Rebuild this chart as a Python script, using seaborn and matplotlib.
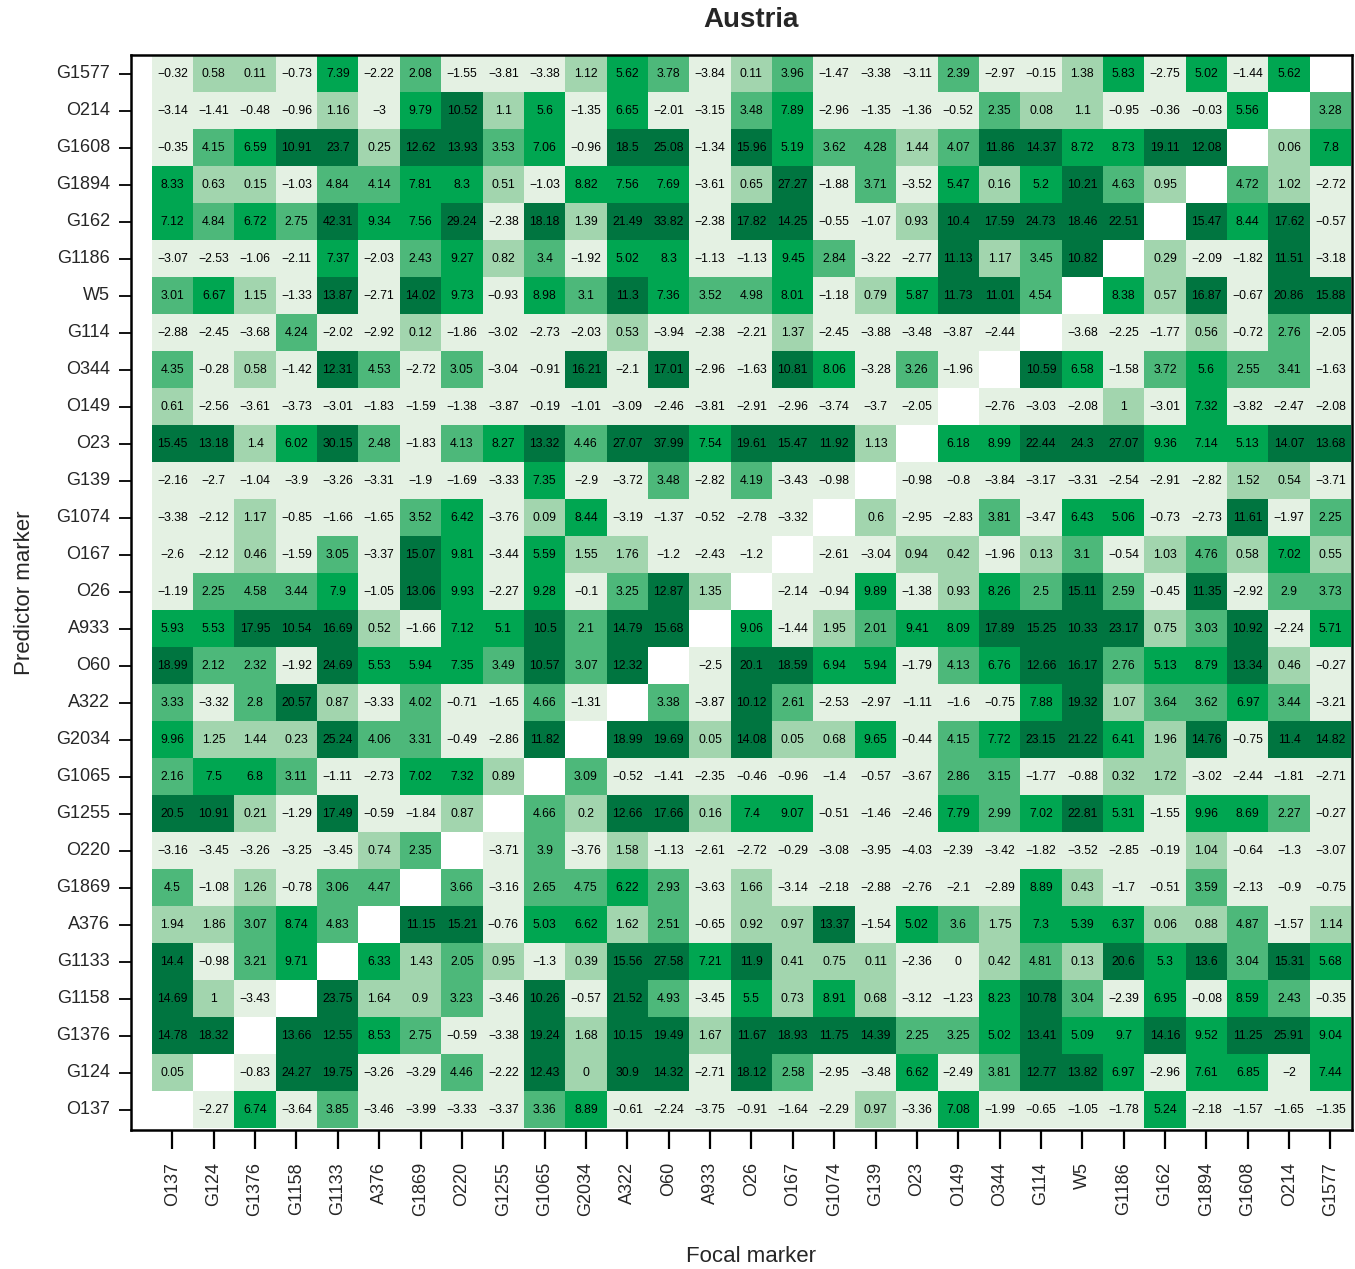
import numpy as np
import pandas as pd
import seaborn as sns
import matplotlib.pyplot as plt
from matplotlib.colors import ListedColormap, BoundaryNorm

nan = np.nan

# Marker order (rows = predictor marker, columns = focal marker)
predictors = ["G1577", "O214", "G1608", "G1894", "G162", "G1186", "W5", "G114",
              "O344", "O149", "O23", "G139", "G1074", "O167", "O26", "A933",
              "O60", "A322", "G2034", "G1065", "G1255", "O220", "G1869", "A376",
              "G1133", "G1158", "G1376", "G124", "O137"]
focal = predictors[::-1]

r_G1577 = [-0.32, 0.58, 0.11, -0.73, 7.39, -2.22, 2.08, -1.55, -3.81, -3.38, 1.12, 5.62, 3.78, -3.84, 0.11, 3.96, -1.47, -3.38, -3.11, 2.39, -2.97, -0.15, 1.38, 5.83, -2.75, 5.02, -1.44, 5.62, nan]
r_O214 = [-3.14, -1.41, -0.48, -0.96, 1.16, -3, 9.79, 10.52, 1.1, 5.6, -1.35, 6.65, -2.01, -3.15, 3.48, 7.89, -2.96, -1.35, -1.36, -0.52, 2.35, 0.08, 1.1, -0.95, -0.36, -0.03, 5.56, nan, 3.28]
r_G1608 = [-0.35, 4.15, 6.59, 10.91, 23.7, 0.25, 12.62, 13.93, 3.53, 7.06, -0.96, 18.5, 25.08, -1.34, 15.96, 5.19, 3.62, 4.28, 1.44, 4.07, 11.86, 14.37, 8.72, 8.73, 19.11, 12.08, nan, 0.06, 7.8]
r_G1894 = [8.33, 0.63, 0.15, -1.03, 4.84, 4.14, 7.81, 8.3, 0.51, -1.03, 8.82, 7.56, 7.69, -3.61, 0.65, 27.27, -1.88, 3.71, -3.52, 5.47, 0.16, 5.2, 10.21, 4.63, 0.95, nan, 4.72, 1.02, -2.72]
r_G162 = [7.12, 4.84, 6.72, 2.75, 42.31, 9.34, 7.56, 29.24, -2.38, 18.18, 1.39, 21.49, 33.82, -2.38, 17.82, 14.25, -0.55, -1.07, 0.93, 10.4, 17.59, 24.73, 18.46, 22.51, nan, 15.47, 8.44, 17.62, -0.57]
r_G1186 = [-3.07, -2.53, -1.06, -2.11, 7.37, -2.03, 2.43, 9.27, 0.82, 3.4, -1.92, 5.02, 8.3, -1.13, -1.13, 9.45, 2.84, -3.22, -2.77, 11.13, 1.17, 3.45, 10.82, nan, 0.29, -2.09, -1.82, 11.51, -3.18]
r_W5 = [3.01, 6.67, 1.15, -1.33, 13.87, -2.71, 14.02, 9.73, -0.93, 8.98, 3.1, 11.3, 7.36, 3.52, 4.98, 8.01, -1.18, 0.79, 5.87, 11.73, 11.01, 4.54, nan, 8.38, 0.57, 16.87, -0.67, 20.86, 15.88]
r_G114 = [-2.88, -2.45, -3.68, 4.24, -2.02, -2.92, 0.12, -1.86, -3.02, -2.73, -2.03, 0.53, -3.94, -2.38, -2.21, 1.37, -2.45, -3.88, -3.48, -3.87, -2.44, nan, -3.68, -2.25, -1.77, 0.56, -0.72, 2.76, -2.05]
r_O344 = [4.35, -0.28, 0.58, -1.42, 12.31, 4.53, -2.72, 3.05, -3.04, -0.91, 16.21, -2.1, 17.01, -2.96, -1.63, 10.81, 8.06, -3.28, 3.26, -1.96, nan, 10.59, 6.58, -1.58, 3.72, 5.6, 2.55, 3.41, -1.63]
r_O149 = [0.61, -2.56, -3.61, -3.73, -3.01, -1.83, -1.59, -1.38, -3.87, -0.19, -1.01, -3.09, -2.46, -3.81, -2.91, -2.96, -3.74, -3.7, -2.05, nan, -2.76, -3.03, -2.08, 1, -3.01, 7.32, -3.82, -2.47, -2.08]
r_O23 = [15.45, 13.18, 1.4, 6.02, 30.15, 2.48, -1.83, 4.13, 8.27, 13.32, 4.46, 27.07, 37.99, 7.54, 19.61, 15.47, 11.92, 1.13, nan, 6.18, 8.99, 22.44, 24.3, 27.07, 9.36, 7.14, 5.13, 14.07, 13.68]
r_G139 = [-2.16, -2.7, -1.04, -3.9, -3.26, -3.31, -1.9, -1.69, -3.33, 7.35, -2.9, -3.72, 3.48, -2.82, 4.19, -3.43, -0.98, nan, -0.98, -0.8, -3.84, -3.17, -3.31, -2.54, -2.91, -2.82, 1.52, 0.54, -3.71]
r_G1074 = [-3.38, -2.12, 1.17, -0.85, -1.66, -1.65, 3.52, 6.42, -3.76, 0.09, 8.44, -3.19, -1.37, -0.52, -2.78, -3.32, nan, 0.6, -2.95, -2.83, 3.81, -3.47, 6.43, 5.06, -0.73, -2.73, 11.61, -1.97, 2.25]
r_O167 = [-2.6, -2.12, 0.46, -1.59, 3.05, -3.37, 15.07, 9.81, -3.44, 5.59, 1.55, 1.76, -1.2, -2.43, -1.2, nan, -2.61, -3.04, 0.94, 0.42, -1.96, 0.13, 3.1, -0.54, 1.03, 4.76, 0.58, 7.02, 0.55]
r_O26 = [-1.19, 2.25, 4.58, 3.44, 7.9, -1.05, 13.06, 9.93, -2.27, 9.28, -0.1, 3.25, 12.87, 1.35, nan, -2.14, -0.94, 9.89, -1.38, 0.93, 8.26, 2.5, 15.11, 2.59, -0.45, 11.35, -2.92, 2.9, 3.73]
r_A933 = [5.93, 5.53, 17.95, 10.54, 16.69, 0.52, -1.66, 7.12, 5.1, 10.5, 2.1, 14.79, 15.68, nan, 9.06, -1.44, 1.95, 2.01, 9.41, 8.09, 17.89, 15.25, 10.33, 23.17, 0.75, 3.03, 10.92, -2.24, 5.71]
r_O60 = [18.99, 2.12, 2.32, -1.92, 24.69, 5.53, 5.94, 7.35, 3.49, 10.57, 3.07, 12.32, nan, -2.5, 20.1, 18.59, 6.94, 5.94, -1.79, 4.13, 6.76, 12.66, 16.17, 2.76, 5.13, 8.79, 13.34, 0.46, -0.27]
r_A322 = [3.33, -3.32, 2.8, 20.57, 0.87, -3.33, 4.02, -0.71, -1.65, 4.66, -1.31, nan, 3.38, -3.87, 10.12, 2.61, -2.53, -2.97, -1.11, -1.6, -0.75, 7.88, 19.32, 1.07, 3.64, 3.62, 6.97, 3.44, -3.21]
r_G2034 = [9.96, 1.25, 1.44, 0.23, 25.24, 4.06, 3.31, -0.49, -2.86, 11.82, nan, 18.99, 19.69, 0.05, 14.08, 0.05, 0.68, 9.65, -0.44, 4.15, 7.72, 23.15, 21.22, 6.41, 1.96, 14.76, -0.75, 11.4, 14.82]
r_G1065 = [2.16, 7.5, 6.8, 3.11, -1.11, -2.73, 7.02, 7.32, 0.89, nan, 3.09, -0.52, -1.41, -2.35, -0.46, -0.96, -1.4, -0.57, -3.67, 2.86, 3.15, -1.77, -0.88, 0.32, 1.72, -3.02, -2.44, -1.81, -2.71]
r_G1255 = [20.5, 10.91, 0.21, -1.29, 17.49, -0.59, -1.84, 0.87, nan, 4.66, 0.2, 12.66, 17.66, 0.16, 7.4, 9.07, -0.51, -1.46, -2.46, 7.79, 2.99, 7.02, 22.81, 5.31, -1.55, 9.96, 8.69, 2.27, -0.27]
r_O220 = [-3.16, -3.45, -3.26, -3.25, -3.45, 0.74, 2.35, nan, -3.71, 3.9, -3.76, 1.58, -1.13, -2.61, -2.72, -0.29, -3.08, -3.95, -4.03, -2.39, -3.42, -1.82, -3.52, -2.85, -0.19, 1.04, -0.64, -1.3, -3.07]
r_G1869 = [4.5, -1.08, 1.26, -0.78, 3.06, 4.47, nan, 3.66, -3.16, 2.65, 4.75, 6.22, 2.93, -3.63, 1.66, -3.14, -2.18, -2.88, -2.76, -2.1, -2.89, 8.89, 0.43, -1.7, -0.51, 3.59, -2.13, -0.9, -0.75]
r_A376 = [1.94, 1.86, 3.07, 8.74, 4.83, nan, 11.15, 15.21, -0.76, 5.03, 6.62, 1.62, 2.51, -0.65, 0.92, 0.97, 13.37, -1.54, 5.02, 3.6, 1.75, 7.3, 5.39, 6.37, 0.06, 0.88, 4.87, -1.57, 1.14]
r_G1133 = [14.4, -0.98, 3.21, 9.71, nan, 6.33, 1.43, 2.05, 0.95, -1.3, 0.39, 15.56, 27.58, 7.21, 11.9, 0.41, 0.75, 0.11, -2.36, -0.001, 0.42, 4.81, 0.13, 20.6, 5.3, 13.6, 3.04, 15.31, 5.68]
r_G1158 = [14.69, 1, -3.43, nan, 23.75, 1.64, 0.9, 3.23, -3.46, 10.26, -0.57, 21.52, 4.93, -3.45, 5.5, 0.73, 8.91, 0.68, -3.12, -1.23, 8.23, 10.78, 3.04, -2.39, 6.95, -0.08, 8.59, 2.43, -0.35]
r_G1376 = [14.78, 18.32, nan, 13.66, 12.55, 8.53, 2.75, -0.59, -3.38, 19.24, 1.68, 10.15, 19.49, 1.67, 11.67, 18.93, 11.75, 14.39, 2.25, 3.25, 5.02, 13.41, 5.09, 9.7, 14.16, 9.52, 11.25, 25.91, 9.04]
r_G124 = [0.05, nan, -0.83, 24.27, 19.75, -3.26, -3.29, 4.46, -2.22, 12.43, 0, 30.9, 14.32, -2.71, 18.12, 2.58, -2.95, -3.48, 6.62, -2.49, 3.81, 12.77, 13.82, 6.97, -2.96, 7.61, 6.85, -2, 7.44]
r_O137 = [nan, -2.27, 6.74, -3.64, 3.85, -3.46, -3.99, -3.33, -3.37, 3.36, 8.89, -0.61, -2.24, -3.75, -0.91, -1.64, -2.29, 0.97, -3.36, 7.08, -1.99, -0.65, -1.05, -1.78, 5.24, -2.18, -1.57, -1.65, -1.35]

rows = [r_G1577, r_O214, r_G1608, r_G1894, r_G162, r_G1186, r_W5, r_G114,
        r_O344, r_O149, r_O23, r_G139, r_G1074, r_O167, r_O26, r_A933,
        r_O60, r_A322, r_G2034, r_G1065, r_G1255, r_O220, r_G1869, r_A376,
        r_G1133, r_G1158, r_G1376, r_G124, r_O137]

df = pd.DataFrame(rows, index=predictors, columns=focal)


def fmt(v):
    if np.isnan(v):
        return ""
    r = round(v, 2)
    if r == 0:
        return "0"
    s = f"{r:g}"
    return s.replace("-", "\u2212")


labels = df.map(fmt).values

# Discrete colour classes: <0, 0-2, 2-5, 5-10, >10
class_colors = ["#e4f1e3", "#a2d5ae", "#4db87a", "#00a651", "#007540"]
cmap = ListedColormap(class_colors)
cmap.set_bad("white")
norm = BoundaryNorm([-100, 0, 2, 5, 10, 100], cmap.N)

sns.set_theme(style="white")
plt.rcParams["font.family"] = ["Liberation Sans", "DejaVu Sans"]

fig = plt.figure(figsize=(13.55, 12.69), dpi=100)
ax = fig.add_axes([131 / 1355, 1 - 1130 / 1269, (1352 - 131) / 1355, (1130 - 55) / 1269])

sns.heatmap(df, ax=ax, cmap=cmap, norm=norm, annot=labels, fmt="",
            annot_kws={"fontsize": 8.8, "color": "black"},
            cbar=False, mask=df.isna(), linewidths=0, square=False)

ax.set_xlim(-0.5, 29.02)
ax.set_ylim(29.05, 0)

for side in ["left", "bottom", "top", "right"]:
    ax.spines[side].set_visible(True)
    ax.spines[side].set_color("black")
    ax.spines[side].set_linewidth(1.8)

ax.set_xticks(np.arange(29) + 0.5)
ax.set_xticklabels(focal, rotation=90, fontsize=13)
ax.set_yticks(np.arange(29) + 0.5)
ax.set_yticklabels(predictors, rotation=0, fontsize=13)
ax.tick_params(axis="x", bottom=True, length=14, width=1.6, pad=9, color="black")
ax.tick_params(axis="y", left=True, length=9, width=1.3, pad=6, color="black")

ax.set_xlabel("Focal marker", fontsize=16)
ax.set_ylabel("Predictor marker", fontsize=16)
ax.xaxis.set_label_coords((751 - 131) / 1221, -0.108)
ax.yaxis.set_label_coords(-0.079, 0.5)
fig.text(751 / 1355, 1 - 20 / 1269, "Austria", ha="center",
         va="center", fontsize=20, fontweight="bold")

fig.savefig("out.png", dpi=100, facecolor="white")
